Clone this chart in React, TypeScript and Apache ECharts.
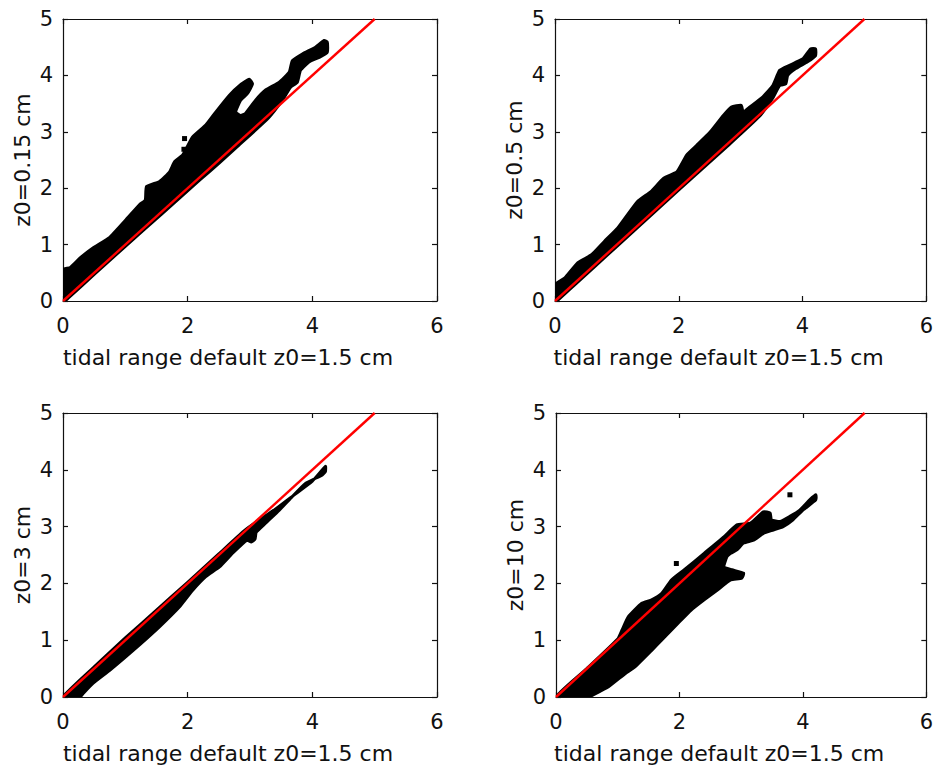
import React, { useEffect, useRef } from "react";
import * as echarts from "echarts";

const xTicks = [0, 2, 4, 6];
const yTicks = [0, 1, 2, 3, 4, 5];
const panelLabels = ["z0=0.15 cm", "z0=0.5 cm", "z0=3 cm", "z0=10 cm"];
const xLabel = "tidal range default z0=1.5 cm";
const refLine = [[0, 0], [5, 5]];

// Outline of each dense point cloud (x, y)
const cloudTL = [
  [0, 0], [0, 0.56], [0.11, 0.59], [0.27, 0.76], [0.48, 0.94], [0.75, 1.13], [1.01, 1.44],
  [1.23, 1.71], [1.32, 1.79], [1.34, 2.03], [1.55, 2.12], [1.71, 2.29], [1.79, 2.47],
  [1.92, 2.59], [2.08, 2.91], [2.29, 3.12], [2.45, 3.35], [2.67, 3.65], [2.83, 3.82],
  [2.99, 3.93], [3.04, 3.85], [2.96, 3.68], [2.85, 3.56], [2.77, 3.35], [2.85, 3.29],
  [2.93, 3.33], [3.09, 3.56], [3.25, 3.74], [3.47, 3.88], [3.63, 4.06], [3.68, 4.26],
  [3.84, 4.38], [4.05, 4.5], [4.19, 4.62], [4.24, 4.59], [4.24, 4.41], [4.11, 4.32],
  [3.95, 4.24], [3.81, 4.09], [3.76, 3.88], [3.65, 3.79], [3.52, 3.56], [3.3, 3.25],
  [2.8, 2.74], [2.5, 2.44], [2.2, 2.15], [1.6, 1.56], [1.0, 0.97], [0.5, 0.47], [0.1, 0.07], [0.03, 0],
];
const cloudTR = [
  [0, 0], [0, 0.29], [0.16, 0.41], [0.37, 0.68], [0.59, 0.82], [0.8, 1.06], [1.01, 1.29],
  [1.33, 1.76], [1.55, 1.94], [1.76, 2.18], [1.97, 2.29], [2.13, 2.59], [2.29, 2.76],
  [2.51, 3.0], [2.72, 3.29], [2.85, 3.44], [3.01, 3.47], [3.04, 3.35], [3.15, 3.44],
  [3.36, 3.62], [3.52, 3.82], [3.63, 4.09], [3.79, 4.18], [4.0, 4.29], [4.13, 4.47],
  [4.21, 4.47], [4.21, 4.35], [4.08, 4.24], [3.89, 4.12], [3.76, 4.0], [3.73, 3.85],
  [3.63, 3.82], [3.52, 3.6], [3.3, 3.27], [2.8, 2.76], [2.0, 1.97], [1.0, 0.97], [0.3, 0.27], [0.03, 0],
];
const cloudBL = [
  [0, 0], [0.5, 0.53], [1.0, 1.04], [1.5, 1.53], [2.0, 2.02], [2.5, 2.52], [2.9, 2.92],
  [3.1, 3.08], [3.4, 3.3], [3.7, 3.55], [4.0, 3.8], [4.21, 4.06], [4.21, 3.97], [4.16, 3.91],
  [3.89, 3.76], [3.68, 3.53], [3.47, 3.29], [3.25, 3.06], [3.1, 2.9], [3.08, 2.78],
  [3.02, 2.73], [2.95, 2.76], [2.72, 2.53], [2.51, 2.29], [2.29, 2.12], [2.08, 1.88], [1.87, 1.59],
  [1.55, 1.24], [1.25, 0.94], [1.01, 0.71], [0.75, 0.47], [0.48, 0.24], [0.32, 0.06], [0.27, 0],
];
const cloudBR = [
  [0, 0], [0.5, 0.5], [1.0, 1.02], [1.07, 1.18], [1.17, 1.41], [1.39, 1.65], [1.55, 1.71],
  [1.71, 1.82], [1.87, 2.06], [2.08, 2.24], [2.4, 2.53], [2.72, 2.82], [2.93, 3.03],
  [3.15, 3.06], [3.36, 3.26], [3.47, 3.24], [3.49, 3.12], [3.63, 3.09], [3.79, 3.18],
  [3.95, 3.29], [4.11, 3.47], [4.21, 3.56], [4.21, 3.47], [4.0, 3.29], [3.84, 3.12],
  [3.68, 3.0], [3.52, 2.94], [3.36, 2.88], [3.2, 2.76], [3.04, 2.71], [2.93, 2.59],
  [2.83, 2.53], [2.77, 2.47], [2.72, 2.29], [2.85, 2.24], [3.04, 2.18], [3.01, 2.09],
  [2.83, 2.06], [2.61, 1.88], [2.4, 1.71], [2.19, 1.53], [1.97, 1.29], [1.71, 1.0],
  [1.55, 0.82], [1.28, 0.53], [1.12, 0.41], [0.85, 0.18], [0.59, 0.03], [0.53, 0],
];
const outliersTL = [[1.95, 2.88], [1.94, 2.69]];
const outliersTR: number[][] = [];
const outliersBL: number[][] = [];
const outliersBR = [[1.95, 2.35], [3.79, 3.56]];

const clouds = [cloudTL, cloudTR, cloudBL, cloudBR];
const outliers = [outliersTL, outliersTR, outliersBL, outliersBR];

const FONT = "DejaVu Sans";

export default function App() {
  const ref = useRef<HTMLDivElement>(null);
  useEffect(() => {
    if (!ref.current) return;
    const chart = echarts.init(ref.current, null, { renderer: "svg" });
    const grids = [
      { left: 63, top: 19, width: 374, height: 282 },
      { left: 555, top: 19, width: 374, height: 282 },
      { left: 63, top: 413, width: 374, height: 284 },
      { left: 556, top: 413, width: 374, height: 284 },
    ];
    const axisLine = { show: true, onZero: false, lineStyle: { color: "#111", width: 1.2 } };
    const tick = { show: true, inside: true, length: 5, lineStyle: { color: "#111", width: 1.2 } };
    const xAxes: any[] = [];
    const yAxes: any[] = [];
    const series: any[] = [];
    grids.forEach((_, i) => {
      xAxes.push({
        type: "value", gridIndex: i, min: xTicks[0], max: xTicks[xTicks.length - 1], interval: 2,
        position: "bottom", axisLine, axisTick: tick, splitLine: { show: false },
        axisLabel: { fontFamily: FONT, fontSize: 21, color: "#111", margin: 14 },
        name: xLabel, nameLocation: "middle", nameGap: 45,
        nameTextStyle: { fontFamily: FONT, fontSize: 22, color: "#111", padding: [0, 44, 0, 0] },
      });
      xAxes.push({
        type: "value", gridIndex: i, min: 0, max: 6, interval: 2, position: "top",
        axisLine, axisTick: tick, axisLabel: { show: false }, splitLine: { show: false },
      });
      yAxes.push({
        type: "value", gridIndex: i, min: yTicks[0], max: yTicks[yTicks.length - 1], interval: 1,
        position: "left", axisLine, axisTick: tick, splitLine: { show: false },
        axisLabel: { fontFamily: FONT, fontSize: 21, color: "#111", margin: 10 },
        name: panelLabels[i], nameLocation: "middle", nameGap: 30,
        nameTextStyle: { fontFamily: FONT, fontSize: 22, color: "#111" },
      });
      yAxes.push({
        type: "value", gridIndex: i, min: 0, max: 5, interval: 1, position: "right",
        axisLine, axisTick: tick, axisLabel: { show: false }, splitLine: { show: false },
      });
      const cloud = clouds[i];
      series.push({
        type: "custom", xAxisIndex: i * 2, yAxisIndex: i * 2, data: cloud, encode: { x: 0, y: 1 },
        silent: true, z: 2, clip: true,
        renderItem: (params: any, api: any) => {
          if (params.dataIndex !== 0) return null;
          const pts = cloud.map((p) => api.coord(p));
          return {
            type: "polygon", shape: { points: pts, smooth: 0.15 },
            style: { fill: "#000", stroke: "#000", lineWidth: 3, lineJoin: "round" },
          };
        },
      });
      series.push({
        type: "scatter", xAxisIndex: i * 2, yAxisIndex: i * 2, data: outliers[i], symbol: "rect",
        symbolSize: 5, itemStyle: { color: "#000", opacity: 1 }, silent: true, z: 2,
      });
      series.push({
        type: "line", xAxisIndex: i * 2, yAxisIndex: i * 2, data: refLine, symbol: "none",
        lineStyle: { color: "#ff0000", width: 2.4 }, silent: true, z: 3,
      });
    });
    chart.setOption({
      animation: false,
      backgroundColor: "#fff",
      grid: grids,
      xAxis: xAxes,
      yAxis: yAxes,
      series,
    });
    return () => chart.dispose();
  }, []);
  return <div ref={ref} style={{ position: "fixed", left: 0, top: 0, width: 936, height: 770 }} />;
}
